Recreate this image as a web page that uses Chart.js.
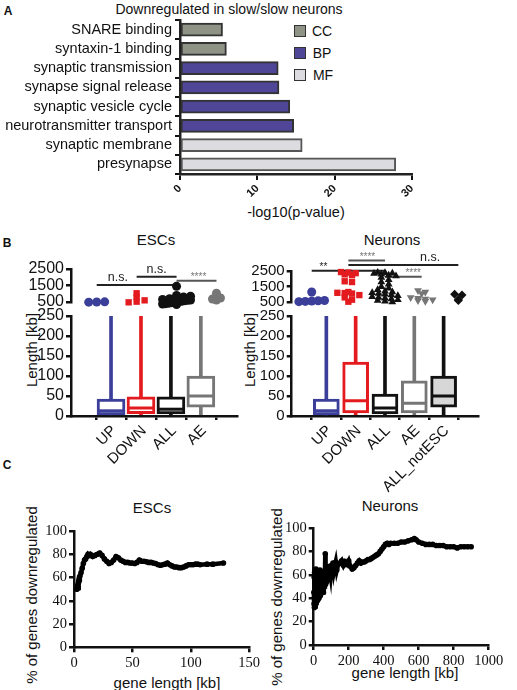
<!DOCTYPE html>
<html>
<head>
<meta charset="utf-8">
<script src="https://cdn.jsdelivr.net/npm/chart.js@4.4.1/dist/chart.umd.min.js"></script>
<style>
body { margin: 0; width: 517px; height: 690px; position: relative; overflow: hidden; background: #fff; font-family: 'Liberation Sans', Arial, sans-serif; color: #111; }
canvas { position: absolute; }
.t { position: absolute; transform: translate(-50%, -50%); white-space: nowrap; }
.v { position: absolute; transform: translate(-50%, -50%) rotate(-90deg); white-space: nowrap; }
.sw { position: absolute; width: 10px; height: 10px; border: 1.5px solid #333; }
</style>
</head>
<body>
<div class="t" style="left:8px;top:11px;font-size:12px;font-weight:bold">A</div>
<div class="t" style="left:229px;top:9px;font-size:14px">Downregulated in slow/slow neurons</div>
<div class="sw" style="left:294px;top:25px;background:#8e9386"></div>
<div class="sw" style="left:294px;top:47px;background:#4f4698"></div>
<div class="sw" style="left:294px;top:69px;background:#dcdce0"></div>
<div class="t" style="left:322px;top:31px;font-size:14px">CC</div>
<div class="t" style="left:322px;top:53px;font-size:14px">BP</div>
<div class="t" style="left:323px;top:75px;font-size:14px">MF</div>
<div class="t" style="left:296px;top:212px;font-size:14.5px">-log10(p-value)</div>

<div class="t" style="left:7px;top:243px;font-size:12px;font-weight:bold">B</div>
<div class="t" style="left:156px;top:239px;font-size:15px">ESCs</div>
<div class="t" style="left:392px;top:239px;font-size:15px">Neurons</div>
<div class="v" style="left:31px;top:350px;font-size:15px">Length [kb]</div>
<div class="v" style="left:249px;top:350px;font-size:15px">Length [kb]</div>

<div class="t" style="left:7px;top:465px;font-size:12px;font-weight:bold">C</div>
<div class="t" style="left:152px;top:507px;font-size:15px">ESCs</div>
<div class="t" style="left:390px;top:505px;font-size:15px">Neurons</div>
<div class="v" style="left:31px;top:595px;font-size:15px">% of genes downregulated</div>
<div class="v" style="left:276px;top:597px;font-size:15px">% of genes downregulated</div>
<div class="t" style="left:167px;top:682px;font-size:15px">gene length [kb]</div>
<div class="t" style="left:405px;top:672px;font-size:15px">gene length [kb]</div>

<script>
// A: GO terms
const goTerms = ['SNARE binding', 'syntaxin-1 binding', 'synaptic transmission', 'synapse signal release',
    'synaptic vesicle cycle', 'neurotransmitter transport', 'synaptic membrane', 'presynapse'];
const goLogP = [5.5, 6.0, 12.7, 12.8, 14.2, 14.7, 15.8, 27.9];
const goGroup = ['CC', 'CC', 'BP', 'BP', 'BP', 'BP', 'MF', 'MF'];
const groupColors = { CC: '#8e9386', BP: '#4f4698', MF: '#dcdce0' };

// B: gene length boxplots
const escCats = ['UP', 'DOWN', 'ALL', 'AE'];
const escQ1 = [3, 6, 5, 22];
const escMed = [13, 20, 17, 50];
const escQ3 = [42, 48, 48, 100];
const escHigh = [
    [490, 500, 510],
    [480, 520, 600, 800, 1030],
    [350, 380, 400, 420, 450, 480, 500, 520, 550, 580, 600, 620, 650, 700, 750, 800, 850, 900, 1450],
    [620, 680, 740, 1030]
];
// [from, to, height, label]; label sits at escSigAt (category units)
const escSig = [[0, 2, 1530, 'n.s.'], [1, 2, 2030, 'n.s.'], [2, 3, 1790, '****']];
const escSigAt = [0.53, 1.5, 2.55];

const neuCats = ['UP', 'DOWN', 'ALL', 'AE', 'ALL_notESC'];
const neuQ1 = [3, 8, 5, 8, 22];
const neuMed = [13, 38, 20, 32, 50];
const neuQ3 = [42, 135, 55, 88, 100];
const neuHigh = [
    [520, 540, 560, 580, 600, 1150],
    [2450, 2420, 2380, 2300, 2250, 1850, 1800, 1150, 1100, 1080, 1050, 950, 800, 650, 520],
    [2420, 2400, 2380, 2350, 2300, 2250, 2200, 2100, 1950, 1800, 1650, 1500, 1400, 1300, 1200, 1150,
     1100, 1050, 1000, 950, 900, 850, 800, 750, 700, 650, 600, 550, 500],
    [1250, 1150, 1050, 800, 750, 700, 650, 600, 550],
    [1000, 950, 650, 600]
];
const neuSig = [[0, 2, 2540, '**'], [1, 2, 3200, '****'], [1, 4, 2915, 'n.s.'], [2, 3, 2145, '****']];
const neuSigAt = [0.32, 1.52, 3.23, 2.77];

// C: % downregulated vs gene length
const escLen = [2.5, 3, 3.5, 4, 4.5, 5,
    6, 7, 8, 9, 10, 11, 12, 13, 14,
    16, 18, 20, 22, 24, 26, 28, 30, 32, 34, 36, 38, 40, 42, 44, 46, 48, 50, 52, 54, 56, 58, 60, 62, 64,
    66, 68, 70, 72, 74, 76, 78, 80, 82, 84, 86, 88, 90, 92, 94, 96, 98, 100, 102, 104, 106, 108,
    114, 119, 128];
const escPct = [50, 53, 51, 56, 58, 61,
    64, 68, 72, 75, 76, 78, 80, 79, 80,
    78, 79, 80, 81, 79, 76, 74, 72, 73, 75, 78, 77, 75, 74, 73, 73, 72.5, 72.5, 72, 73, 75, 74, 74, 73.5, 73,
    73, 72.5, 72, 71, 70.5, 71, 71.5, 72.5, 71, 70, 69, 69, 68.5, 68.5, 69, 70, 71, 71, 71, 71.5, 71.5, 71,
    71.5, 71.5, 72.5];
const neuLen = [1, 2, 3, 4, 5, 6, 7, 8, 9, 10, 11, 12, 13, 14, 15, 16,
    18, 20, 22, 24, 26, 28, 30, 32, 34, 36, 38, 40,
    43, 46, 49, 52, 55, 58, 61, 64,
    66, 68, 71, 74, 77, 80,
    84, 88, 92, 96, 100,
    105, 110, 115, 120, 126, 132, 140,
    150, 160, 170, 180, 190, 200, 210, 220, 230, 240, 250, 260, 270, 280, 290,
    300, 310, 320, 330, 340, 350, 360, 370, 380, 390, 400, 410, 420, 430, 440,
    460, 480, 500, 520, 540, 560,
    575, 585,
    600, 620, 640, 660, 680, 700, 720, 740, 760, 780, 800, 820, 840, 860, 880, 900];
const neuPct = [45, 35, 58, 32, 62, 40, 55, 33, 64, 38, 52, 42, 65, 36, 60, 45,
    40, 63, 38, 58, 44, 62, 40, 55, 48, 64, 42, 58,
    46, 62, 50, 56, 45, 63, 50, 60,
    78, 52, 65, 54, 62, 58,
    67, 56, 64, 60, 68,
    62, 70, 63, 67, 71, 64, 69,
    70, 72, 68, 71, 69, 72, 67, 65, 66, 68, 70, 72, 70, 71, 71,
    72, 73, 73, 74, 75, 76, 77, 78, 80, 82, 84, 86, 87, 86, 87,
    87, 87, 88, 88, 89, 90,
    91, 90,
    88, 87, 86, 86, 86, 85, 85, 85, 84, 84, 84, 83, 84, 84, 84, 84];

const SANS = "'Liberation Sans', Arial, sans-serif";
const SERIF = "'Liberation Serif', 'Times New Roman', serif";
Chart.defaults.font.family = SANS;
Chart.defaults.color = '#111';
Chart.defaults.animation = false;
Chart.defaults.responsive = false;
Chart.defaults.plugins.legend.display = false;
Chart.defaults.plugins.tooltip.enabled = false;

const plain = v => String(v);

function place(left, top, w, h) {
    const c = document.createElement('canvas');
    c.width = w; c.height = h;
    c.style.left = left + 'px'; c.style.top = top + 'px';
    c.style.width = w + 'px'; c.style.height = h + 'px';
    document.body.appendChild(c);
    return c;
}

function label(text, x, y, size, color) {
    const d = document.createElement('div');
    d.className = 't';
    d.textContent = text;
    d.style.left = x + 'px'; d.style.top = y + 'px';
    d.style.fontSize = size + 'px'; d.style.color = color;
    document.body.appendChild(d);
}

const axisGrid = { drawOnChartArea: false, color: '#111', lineWidth: 2.5, tickLength: 5 };
const axisBorder = { color: '#111', width: 2.5 };

// ---- A ----
new Chart(place(0, 0, 517, 230), {
    type: 'bar',
    data: {
        labels: goTerms,
        datasets: [{
            data: goLogP,
            backgroundColor: goGroup.map(g => groupColors[g]),
            borderColor: goGroup.map(g => g === 'MF' ? '#555' : '#333'),
            borderWidth: 2,
            borderSkipped: false,
            barThickness: 13
        }]
    },
    options: {
        indexAxis: 'y',
        layout: { padding: { top: 20, right: 105, left: 0, bottom: 0 } },
        scales: {
            x: {
                min: 0, max: 30,
                ticks: { stepSize: 10, minRotation: 45, maxRotation: 45, font: { size: 11, weight: 'bold' }, padding: 2 },
                grid: { ...axisGrid, lineWidth: 2, tickLength: 6 },
                border: { color: '#222', width: 2.5 },
                afterFit: s => { s.height = 56; }
            },
            y: {
                ticks: { autoSkip: false, font: { size: 14.5 }, padding: 3 },
                grid: { ...axisGrid, lineWidth: 2 },
                border: { color: '#222', width: 2.5 },
                afterFit: s => { s.width = 180; }
            }
        }
    }
});

// ---- B ----
const boxColors = {
    UP: '#3b3f99', DOWN: '#e31b1f', ALL: '#111111', AE: '#767676', ALL_notESC: '#111111'
};
const pointStyles = {
    esc: { UP: 'circle', DOWN: 'rect', ALL: 'circle', AE: 'circle' },
    neu: { UP: 'circle', DOWN: 'rect', ALL: 'triangle', AE: 'triangle', ALL_notESC: 'rectRot' }
};

// simple beeswarm: values in the same band are spread sideways
function swarm(vals, i, band, step, maxHalf) {
    const rows = {};
    vals.forEach(v => {
        const k = Math.round(v / band);
        (rows[k] = rows[k] || []).push(v);
    });
    const pts = [];
    Object.values(rows).forEach(r => {
        const s = r.length > 1 ? Math.min(step, 2 * maxHalf / (r.length - 1)) : 0;
        r.forEach((v, j) => pts.push({ x: i + (j - (r.length - 1) / 2) * s, y: v }));
    });
    return pts;
}

function catAxis(cats, xmin, xmax, show, fontSize, offset, height) {
    const axis = {
        type: 'linear', min: xmin, max: xmax, display: show,
        afterBuildTicks: s => { s.ticks = cats.map((c, i) => ({ value: i })); },
        ticks: {
            autoSkip: false, minRotation: 45, maxRotation: 45,
            font: { size: fontSize }, padding: 2, labelOffset: offset,
            callback: v => cats[v]
        },
        grid: { ...axisGrid, tickLength: 4 },
        border: axisBorder
    };
    if (show) axis.afterFit = s => { s.height = height; };
    return axis;
}

function boxPanel(p) {
    const { cats, q1, med, q3, high, sig, sigAt, key, left, xmin, xmax, yW, areaRight, barW, font } = p;
    const cw = 517 - left;
    const colorOf = c => boxColors[c];
    const lowTop = 316, lowBottom = 416;

    // lower segment (0-250)
    const lowCanvasTop = 300, lowCanvasH = 195;
    new Chart(place(left, lowCanvasTop, cw, lowCanvasH), {
        type: 'bar',
        data: {
            datasets: [
                {
                    type: 'line', showLine: false, order: 1,
                    data: cats.map((c, i) => ({ x: i, y: med[i] })),
                    pointStyle: 'line', pointRadius: barW / 2 - 1.5, pointBorderWidth: 3,
                    pointBorderColor: cats.map(colorOf)
                },
                {
                    order: 2, grouped: false, barThickness: barW, borderSkipped: false, borderWidth: 3,
                    data: cats.map((c, i) => ({ x: i, y: [q1[i], q3[i]] })),
                    backgroundColor: cats.map(c => c === 'ALL_notESC' ? '#d7d7d7' : '#fff'),
                    borderColor: cats.map(colorOf)
                },
                {
                    order: 3, grouped: false, barThickness: 3, borderWidth: 0,
                    data: cats.map((c, i) => ({ x: i, y: [q3[i], 250] })),
                    backgroundColor: cats.map(colorOf)
                },
                {
                    order: 3, grouped: false, barThickness: 3, borderWidth: 0,
                    data: cats.map((c, i) => ({ x: i, y: [0, q1[i]] })),
                    backgroundColor: cats.map(colorOf)
                }
            ]
        },
        options: {
            layout: { padding: { top: lowTop - lowCanvasTop, right: cw - areaRight, left: 0, bottom: 0 } },
            scales: {
                x: catAxis(cats, xmin, xmax, true, font.cat, 3, lowCanvasTop + lowCanvasH - lowBottom),
                y: {
                    min: 0, max: 250,
                    ticks: { stepSize: 50, autoSkip: false, font: { size: font.y }, padding: 2, callback: plain },
                    grid: axisGrid, border: axisBorder,
                    afterFit: s => { s.width = yW; }
                }
            }
        }
    });

    // upper segment (500-2500)
    const upTop = key === 'esc' ? 269 : 271.3, upBottom = 302;
    const upCanvasTop = 240, upCanvasH = 75;
    const upDatasets = cats.map((c, i) => ({
        type: 'line', showLine: false, clip: false,
        data: swarm(high[i], i, 250, 0.2, 0.35),
        pointStyle: pointStyles[key][c],
        rotation: key === 'neu' && c === 'AE' ? 180 : 0,
        pointRadius: 4.5, pointBorderWidth: 0,
        pointBackgroundColor: colorOf(c)
    }));
    sig.forEach(([a, b, y, txt]) => {
        const grey = txt === '****' && (b - a === 1);
        upDatasets.push({
            type: 'line', clip: false, data: [{ x: a, y: y }, { x: b, y: y }],
            borderColor: grey ? '#555' : '#222', borderWidth: 2, pointRadius: 0
        });
    });
    const upChart = new Chart(place(left, upCanvasTop, cw, upCanvasH), {
        type: 'line',
        data: { datasets: upDatasets },
        options: {
            layout: { padding: { top: upTop - upCanvasTop, bottom: upCanvasTop + upCanvasH - upBottom, right: cw - areaRight, left: 0 } },
            scales: {
                x: catAxis(cats, xmin, xmax, false, font.cat, 0, 0),
                y: {
                    min: 500, max: 2500,
                    afterBuildTicks: s => { s.ticks = [500, 1500, 2500].map(v => ({ value: v })); },
                    ticks: { autoSkip: false, font: { size: font.y }, padding: 2, callback: plain },
                    grid: axisGrid, border: axisBorder,
                    afterFit: s => { s.width = yW; }
                }
            }
        }
    });

    // significance labels above their bars
    sig.forEach(([a, b, y, txt], k) => {
        const stars = txt.indexOf('*') === 0;
        const x = left + upChart.scales.x.getPixelForValue(sigAt[k]);
        const py = upCanvasTop + upChart.scales.y.getPixelForValue(y) - (stars ? 5 : 8);
        const grey = txt === '****' && (b - a === 1);
        label(txt, x, py, stars ? 10 : 12.5, grey ? '#777' : '#222');
    });
}

boxPanel({
    cats: escCats, q1: escQ1, med: escMed, q3: escQ3, high: escHigh, sig: escSig, sigAt: escSigAt, key: 'esc',
    left: 0, xmin: -0.644, xmax: 3.514, yW: 71, areaRight: 237, barW: 28,
    font: { y: 16, cat: 15 }
});
boxPanel({
    cats: neuCats, q1: neuQ1, med: neuMed, q3: neuQ3, high: neuHigh, sig: neuSig, sigAt: neuSigAt, key: 'neu',
    left: 250, xmin: -0.546, xmax: 4.537, yW: 41.7, areaRight: 228, barW: 26,
    font: { y: 15, cat: 15 }
});

// ---- C ----
function curve(p) {
    const { xs, ys, left, top, w, h, yW, areaTop, areaBottom, areaRight, xmax, xstep, gap } = p;
    new Chart(place(left, top, w, h), {
        type: 'line',
        data: {
            datasets: [{
                data: xs.map((x, i) => ({ x: x, y: ys[i] })),
                borderColor: '#000', borderWidth: 4.5,
                pointRadius: 2.8, pointBackgroundColor: '#000', pointBorderWidth: 0,
                segment: { borderWidth: ctx => (gap && ctx.p0.parsed.x >= gap) ? 0 : 4.5 },
                clip: false
            }]
        },
        options: {
            layout: { padding: { top: areaTop - top, right: w - (areaRight - left), left: 0, bottom: 0 } },
            scales: {
                x: {
                    type: 'linear', min: 0, max: xmax,
                    ticks: { stepSize: xstep, autoSkip: false, font: { family: SERIF, size: 14.5 }, padding: 2, maxRotation: 0, callback: plain },
                    grid: axisGrid, border: axisBorder,
                    afterFit: s => { s.height = top + h - areaBottom; }
                },
                y: {
                    min: 0, max: 100,
                    ticks: { stepSize: 20, autoSkip: false, font: { family: SERIF, size: 14.5 }, padding: 2, callback: plain },
                    grid: axisGrid, border: axisBorder,
                    afterFit: s => { s.width = yW; }
                }
            }
        }
    });
}

curve({ xs: escLen, ys: escPct, left: 0, top: 515, w: 262, h: 160, yW: 74, areaTop: 531, areaBottom: 647.3,
    areaRight: 249.3, xmax: 150, xstep: 50, gap: 108 });
curve({ xs: neuLen, ys: neuPct, left: 255, top: 512, w: 262, h: 160, yW: 58.7, areaTop: 528, areaBottom: 645,
    areaRight: 488.7, xmax: 1000, xstep: 200, gap: 0 });
</script>
</body>
</html>
